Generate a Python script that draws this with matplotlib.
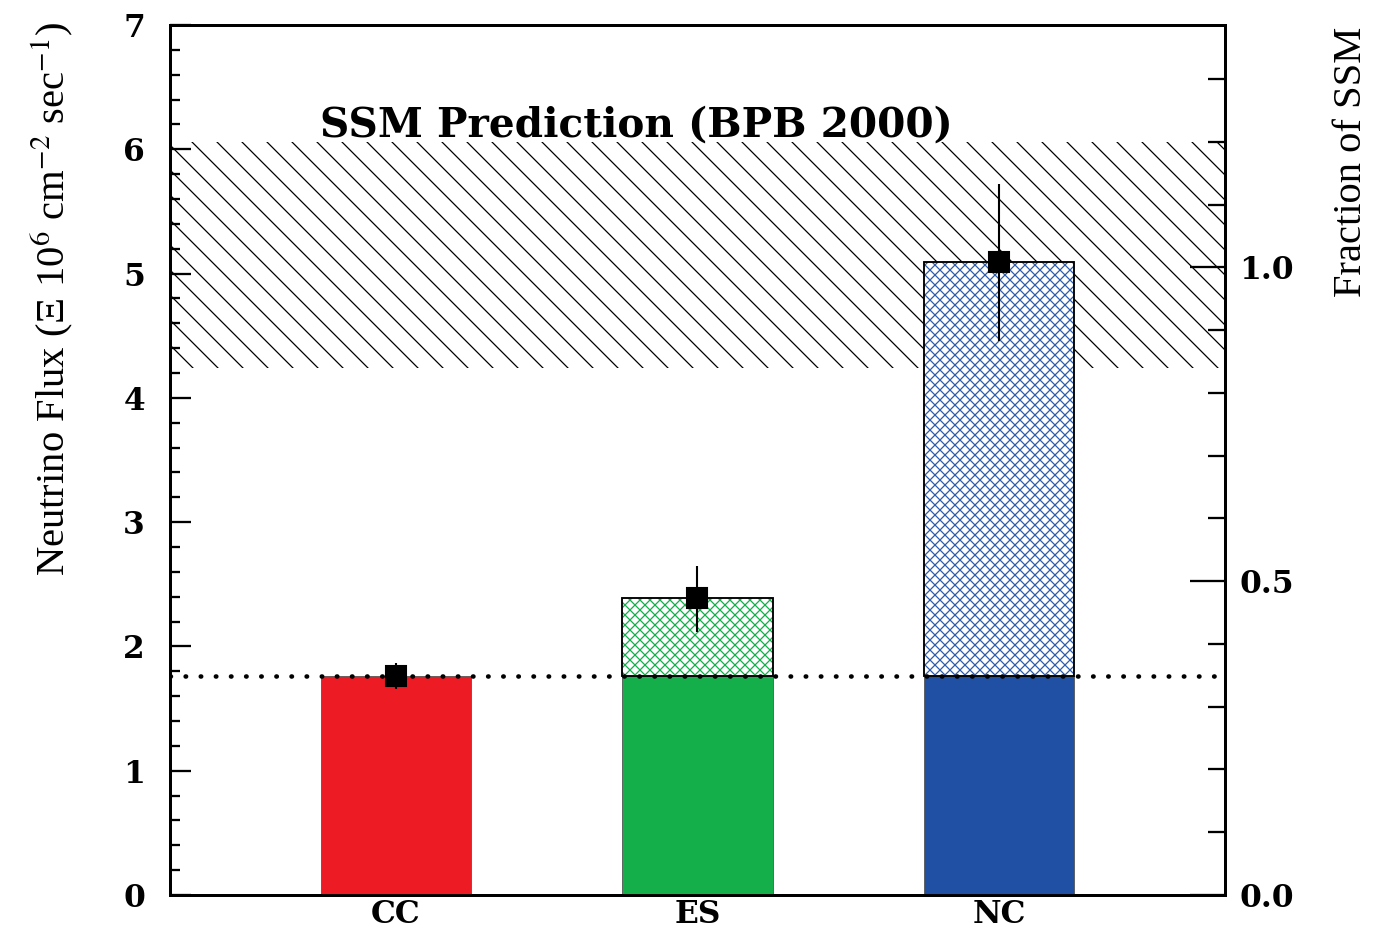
import numpy as np
import matplotlib
matplotlib.use("Agg")
import matplotlib.pyplot as plt
from matplotlib.ticker import MultipleLocator, FormatStrFormatter

# measured fluxes (10^6 cm^-2 s^-1)
categories = ["CC", "ES", "NC"]
flux = [1.76, 2.39, 5.09]
err_lo = [0.10, 0.27, 0.63]
err_hi = [0.11, 0.26, 0.63]
cc_flux = 1.76

# SSM prediction (BPB 2000)
ssm_flux = 5.05
ssm_lo = 4.24
ssm_hi = 6.06

solid_colors = ["#ED1C24", "#14AE4A", "#2050A3"]
hatch_colors = ["#ED1C24", "#14AE4A", "#2E5DAA"]

plt.rcParams["hatch.linewidth"] = 0.6
plt.rcParams["mathtext.fontset"] = "stix"

DPI = 150
fig = plt.figure(figsize=(1377 / DPI, 935 / DPI), dpi=DPI)
ax = fig.add_axes([170 / 1377, 1 - 895 / 935, 1055 / 1377, 870 / 935])

x = np.array([0.75, 1.75, 2.75])
w = 0.5

# SSM band
ax.axhspan(ssm_lo, ssm_hi, facecolor="none", edgecolor="black", hatch="\\\\", lw=0, zorder=1)

# solid part (CC level)
ax.bar(x, [cc_flux] * 3, width=w, color=solid_colors, edgecolor="#555555", lw=0.4, zorder=3)

# hatched excess above CC for ES and NC
excess = np.array(flux[1:]) - cc_flux
ax.bar(x[1:], excess, bottom=cc_flux, width=w, facecolor="white",
       edgecolor=hatch_colors[1:], hatch="xxxxx", lw=0, zorder=3)
ax.bar(x[1:], excess, bottom=cc_flux, width=w, fill=False,
       edgecolor="black", lw=0.9, zorder=4)

# dotted CC line
ax.axhline(cc_flux, color="black", ls=(0, (0.1, 3.2)), lw=2.2, dash_capstyle="round", zorder=5)

# data points
ax.errorbar(x, flux, yerr=[err_lo, err_hi], fmt="s", color="black", ms=10,
            elinewidth=1.0, capsize=0, zorder=6)

ax.text(1.546, 6.1, "SSM Prediction (BPB 2000)", ha="center", va="baseline",
        fontsize=19.5, fontweight="bold", family="DejaVu Serif", zorder=7)

ax.set_xlim(0, 3.5)
ax.set_ylim(0, 7)
ax.set_xticks(x, categories)
ax.yaxis.set_major_locator(MultipleLocator(1))
ax.yaxis.set_minor_locator(MultipleLocator(0.2))
ax.tick_params(axis="x", length=0, pad=2)
ax.tick_params(axis="y", which="major", direction="in", length=10, width=1.1, pad=12)
ax.tick_params(axis="y", which="minor", direction="in", length=5, width=1.1)
for lab in ax.get_xticklabels() + ax.get_yticklabels():
    lab.set_family("DejaVu Serif")
    lab.set_fontweight("bold")
    lab.set_fontsize(15)
for s in ax.spines.values():
    s.set_linewidth(1.4)

ax.set_ylabel("Neutrino Flux (Ξ 10$^{6}$ cm$^{-2}$ sec$^{-1}$)",
              family="Liberation Serif", fontsize=19.5)
ax.yaxis.set_label_coords(-0.09, 0.685)

# right axis: fraction of SSM
ax2 = ax.twinx()
ax2.set_ylim(0, 7 / ssm_flux)
ax2.yaxis.set_major_locator(MultipleLocator(0.5))
ax2.yaxis.set_minor_locator(MultipleLocator(0.1))
ax2.yaxis.set_major_formatter(FormatStrFormatter("%.1f"))
ax2.tick_params(axis="y", which="major", direction="in", length=17, width=1.1, pad=7)
ax2.tick_params(axis="y", which="minor", direction="in", length=8, width=1.1)
for lab in ax2.get_yticklabels():
    lab.set_family("DejaVu Serif")
    lab.set_fontweight("bold")
    lab.set_fontsize(15)
for s in ax2.spines.values():
    s.set_linewidth(1.4)
ax2.set_ylabel("Fraction of SSM", family="Liberation Serif", fontsize=19.5)
ax2.yaxis.set_label_coords(1.102, 0.843)

fig.savefig("out.png", dpi=DPI)
